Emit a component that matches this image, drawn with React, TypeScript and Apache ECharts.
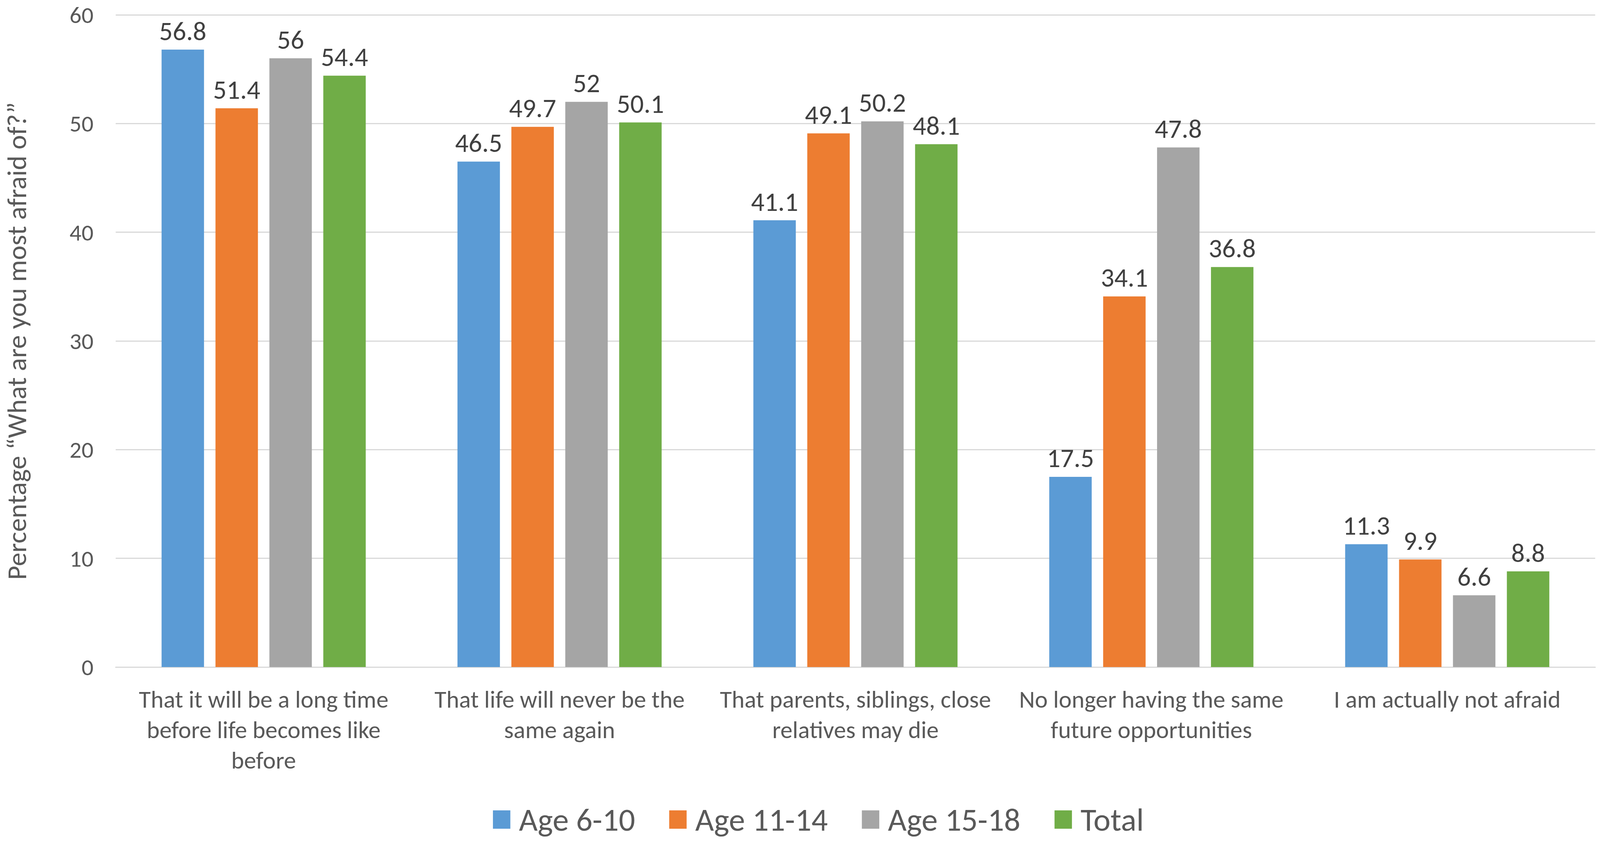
import React, { useEffect, useRef } from "react";
import * as echarts from "echarts";

const categories = [
  "That it will be a long time before life becomes like before",
  "That life will never be the same again",
  "That parents, siblings, close relatives may die",
  "No longer having the same future opportunities",
  "I am actually not afraid",
];
const categoryLabels = [
  "That it will be a long time\nbefore life becomes like\nbefore",
  "That life will never be the\nsame again",
  "That parents, siblings, close\nrelatives may die",
  "No longer having the same\nfuture opportunities",
  "I am actually not afraid",
];
const seriesNames = ["Age 6-10", "Age 11-14", "Age 15-18", "Total"];
const age6to10 = [56.8, 46.5, 41.1, 17.5, 11.3];
const age11to14 = [51.4, 49.7, 49.1, 34.1, 9.9];
const age15to18 = [56, 52, 50.2, 47.8, 6.6];
const totalValues = [54.4, 50.1, 48.1, 36.8, 8.8];
const colors = ["#5B9BD5", "#ED7D31", "#A5A5A5", "#70AD47"];
const yTicks = { min: 0, max: 60, interval: 10 };
const yAxisTitle = "Percentage \u201CWhat are you most afraid of?\u201D";

const FONT = "Carlito, Calibri, Lato, sans-serif";
const REF_W = 4317;
const REF_H = 2156;

export default function App() {
  const ref = useRef<HTMLDivElement>(null);
  useEffect(() => {
    if (!ref.current) return;
    document.body.style.margin = "0";
    document.body.style.overflow = "hidden";
    const el = ref.current;
    const chart = echarts.init(el, undefined, { renderer: "svg" });
    const sx = (el.clientWidth || REF_W) / REF_W;
    const sy = (el.clientHeight || REF_H) / REF_H;
    const sf = Math.sqrt(sx * sy);
    const allData = [age6to10, age11to14, age15to18, totalValues];
    chart.setOption({
      animation: false,
      backgroundColor: "#ffffff",
      textStyle: { fontFamily: FONT },
      grid: {
        left: 303 * sx,
        right: 13 * sx,
        top: 38 * sy,
        bottom: 448 * sy,
        containLabel: false,
      },
      legend: {
        data: seriesNames,
        left: 1330 * sx,
        top: 2056 * sy,
        padding: 0,
        itemWidth: 47 * sx,
        itemHeight: 47 * sy,
        itemGap: 92 * sx,
        icon: "rect",
        textStyle: {
          fontFamily: FONT,
          fontSize: 85 * sf,
          color: "#595959",
          lineHeight: 85 * sy,
          padding: [0, 0, 0, 18 * sx],
        },
      },
      xAxis: {
        type: "category",
        data: categories,
        axisLine: { show: true, lineStyle: { color: "#D9D9D9", width: 3 * sy } },
        axisTick: { show: false },
        axisLabel: {
          interval: 0,
          fontFamily: FONT,
          fontSize: 64 * sf,
          lineHeight: 78 * sy,
          color: "#595959",
          margin: 44 * sy,
          formatter: (_v: string, i: number) => categoryLabels[i],
        },
      },
      yAxis: {
        type: "value",
        min: yTicks.min,
        max: yTicks.max,
        interval: yTicks.interval,
        name: yAxisTitle,
        nameLocation: "middle",
        nameRotate: 90,
        nameGap: 230 * sx,
        nameTextStyle: { fontFamily: FONT, fontSize: 72 * sf, color: "#595959" },
        axisLine: { show: false },
        axisTick: { show: false },
        splitLine: { lineStyle: { color: "#D9D9D9", width: 3 * sy } },
        axisLabel: {
          fontFamily: FONT,
          fontSize: 62 * sf,
          lineHeight: 62 * sy,
          color: "#595959",
          margin: 60 * sx,
        },
      },
      series: seriesNames.map((name, i) => ({
        name,
        type: "bar",
        data: allData[i],
        barCategoryGap: "31%",
        barGap: "27%",
        itemStyle: { color: colors[i] },
        label: {
          show: true,
          position: "top",
          distance: 14 * sy,
          fontFamily: FONT,
          fontSize: 70 * sf,
          color: "#404040",
        },
      })),
    });
    return () => chart.dispose();
  }, []);
  return (
    <div
      ref={ref}
      style={{ position: "fixed", left: 0, top: 0, width: "100vw", height: "100vh" }}
    />
  );
}
